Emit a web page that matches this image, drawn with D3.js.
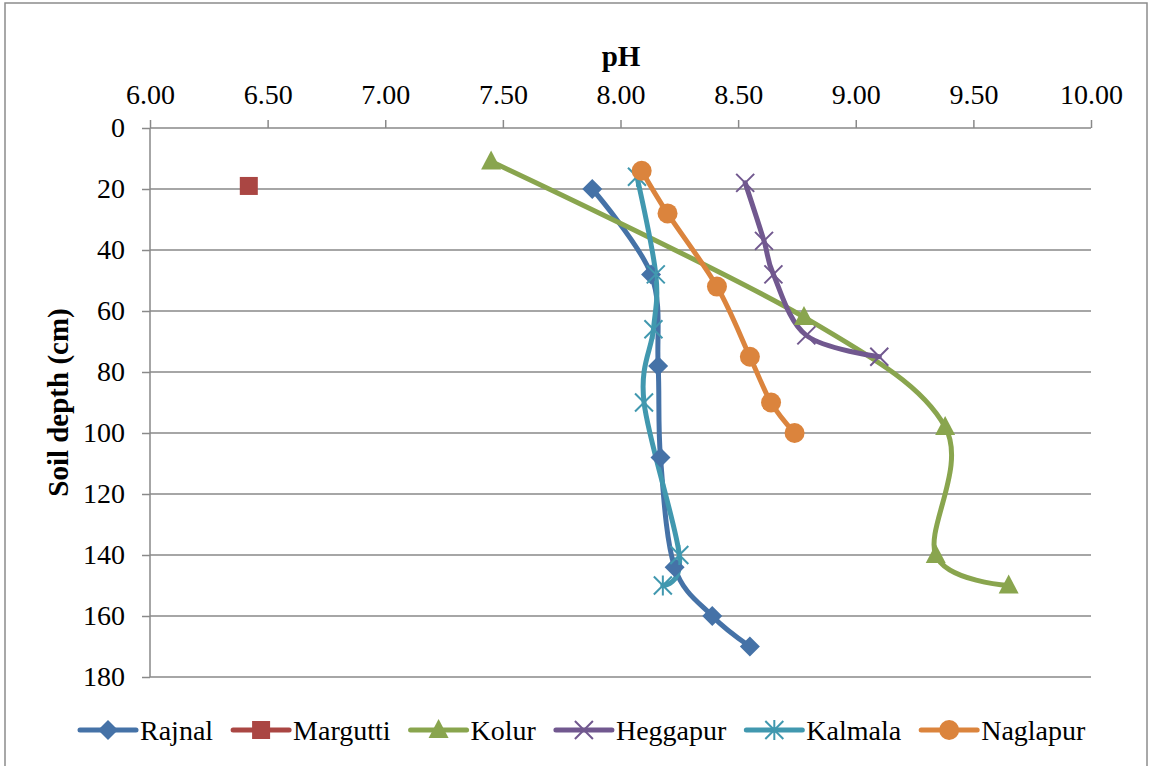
<!DOCTYPE html>
<html>
<head>
<meta charset="utf-8">
<script src="https://cdn.jsdelivr.net/npm/d3@7"></script>
<style>
  html, body { margin: 0; padding: 0; background: #fff; }
  svg { display: block; }
</style>
</head>
<body>
<svg id="chart" width="1151" height="766"></svg>
<script>
// ---- Data ----
const seriesNames = ["Rajnal", "Margutti", "Kolur", "Heggapur", "Kalmala", "Naglapur"];
const seriesColors = ["#4572A7", "#AA4643", "#89A54E", "#71588F", "#4198AF", "#DB843D"];
const seriesMarkers = ["diamond", "square", "triangle", "x", "star", "circle"];

const rajnalPH    = [7.88, 8.13, 8.16, 8.17, 8.23, 8.39, 8.55];
const rajnalDepth = [20, 48, 78, 108, 144, 160, 170];

const marguttiPH    = [6.42];
const marguttiDepth = [19];

const kolurPH    = [7.45, 8.78, 9.38, 9.34, 9.65];
const kolurDepth = [11, 62, 98, 140, 150];

const heggapurPH    = [8.53, 8.61, 8.65, 8.79, 9.10];
const heggapurDepth = [18, 37, 48, 68, 75];

const kalmalaPH    = [8.07, 8.15, 8.14, 8.10, 8.25, 8.18];
const kalmalaDepth = [16, 48, 66, 90, 140, 150];

const naglapurPH    = [8.09, 8.20, 8.41, 8.55, 8.64, 8.74];
const naglapurDepth = [14, 28, 52, 75, 90, 100];

const xTicks = [6.0, 6.5, 7.0, 7.5, 8.0, 8.5, 9.0, 9.5, 10.0];
const yTicks = [0, 20, 40, 60, 80, 100, 120, 140, 160, 180];

const phSeries = [rajnalPH, marguttiPH, kolurPH, heggapurPH, kalmalaPH, naglapurPH];
const depthSeries = [rajnalDepth, marguttiDepth, kolurDepth, heggapurDepth, kalmalaDepth, naglapurDepth];

const series = seriesNames.map((name, i) => ({
  name, color: seriesColors[i], marker: seriesMarkers[i],
  points: phSeries[i].map((v, j) => ({ ph: v, depth: depthSeries[i][j] }))
}));

// ---- Layout ----
const FONT = "'Liberation Serif', 'Times New Roman', serif";
const FS = "28px";
const FS_TITLE = "29px";
const svg = d3.select("#chart");
const mLeft = 150, mRight = 1091, mTop = 128, mBottom = 677;
const x = d3.scaleLinear().domain([6, 10]).range([mLeft, mRight]);
const y = d3.scaleLinear().domain([0, 180]).range([mTop, mBottom]);
const gridColor = "#898989";

// outer border
svg.append("rect").attr("x", 5).attr("y", 3).attr("width", 1142).attr("height", 775)
  .attr("fill", "none").attr("stroke", "#8c8c8c").attr("stroke-width", 1.5);

// gridlines
svg.append("g").selectAll("line").data(yTicks.filter(d => d > 0)).join("line")
  .attr("x1", mLeft).attr("x2", mRight)
  .attr("y1", d => y(d)).attr("y2", d => y(d))
  .attr("stroke", gridColor).attr("stroke-width", 1.5);

// top x axis
const xAxis = svg.append("g").attr("transform", `translate(0,${mTop})`)
  .call(d3.axisTop(x).tickValues(xTicks).tickFormat(d3.format(".2f")).tickSize(8).tickPadding(16));
xAxis.attr("font-family", null).attr("font-size", null);
xAxis.select(".domain").attr("stroke", gridColor).attr("stroke-width", 1.5).attr("d", `M${mLeft},0H${mRight}`);
xAxis.selectAll(".tick line").attr("stroke", gridColor).attr("stroke-width", 1.5);
xAxis.selectAll(".tick text").style("font-family", FONT).style("font-size", FS).attr("fill", "#000");

// left y axis
const yAxis = svg.append("g").attr("transform", `translate(${mLeft},0)`)
  .call(d3.axisLeft(y).tickValues(yTicks).tickSize(8).tickPadding(17));
yAxis.attr("font-family", null).attr("font-size", null);
yAxis.select(".domain").attr("stroke", gridColor).attr("stroke-width", 1.5).attr("d", `M0,${mTop}V${mBottom}`);
yAxis.selectAll(".tick line").attr("stroke", gridColor).attr("stroke-width", 1.5);
yAxis.selectAll(".tick text").style("font-family", FONT).style("font-size", FS).attr("fill", "#000");

// axis titles
svg.append("text").attr("x", 621).attr("y", 66)
  .attr("text-anchor", "middle").style("font-family", FONT).style("font-size", FS_TITLE)
  .style("font-weight", "bold").text("pH");
svg.append("text").attr("transform", `translate(68,${(mTop + mBottom) / 2}) rotate(-90)`)
  .attr("text-anchor", "middle").style("font-family", FONT).style("font-size", FS_TITLE)
  .style("font-weight", "bold").text("Soil depth (cm)");

// markers
function drawMarker(g, type, cx, cy, color) {
  if (type === "diamond") {
    const s = 10;
    g.append("path").attr("d", `M${cx},${cy - s}L${cx + s},${cy}L${cx},${cy + s}L${cx - s},${cy}Z`).attr("fill", color);
  } else if (type === "square") {
    g.append("rect").attr("x", cx - 9).attr("y", cy - 9).attr("width", 18).attr("height", 18).attr("fill", color);
  } else if (type === "triangle") {
    g.append("path").attr("d", `M${cx},${cy - 11}L${cx + 10},${cy + 8}L${cx - 10},${cy + 8}Z`).attr("fill", color);
  } else if (type === "circle") {
    g.append("circle").attr("cx", cx).attr("cy", cy).attr("r", 10).attr("fill", color);
  } else if (type === "x") {
    g.append("path").attr("d", `M${cx - 9},${cy - 9}L${cx + 9},${cy + 9}M${cx + 9},${cy - 9}L${cx - 9},${cy + 9}`)
      .attr("stroke", color).attr("stroke-width", 2);
  } else if (type === "star") {
    g.append("path").attr("d", `M${cx - 9},${cy - 9}L${cx + 9},${cy + 9}M${cx + 9},${cy - 9}L${cx - 9},${cy + 9}M${cx},${cy - 10}L${cx},${cy + 10}`)
      .attr("stroke", color).attr("stroke-width", 2);
  }
}

// lines
const line = d3.line().x(d => x(d.ph)).y(d => y(d.depth)).curve(d3.curveCatmullRom.alpha(0));
const plot = svg.append("g");
series.forEach(s => {
  if (s.points.length > 1) {
    plot.append("path").datum(s.points).attr("d", line)
      .attr("fill", "none").attr("stroke", s.color).attr("stroke-width", 5)
      .attr("stroke-linejoin", "round").attr("stroke-linecap", "round");
  }
});
series.forEach(s => {
  const g = plot.append("g");
  s.points.forEach(p => drawMarker(g, s.marker, x(p.ph), y(p.depth), s.color));
});

// legend
const legend = svg.append("g");
let lx = 80;
const ly = 730;
series.forEach(s => {
  const g = legend.append("g");
  g.append("line").attr("x1", lx).attr("x2", lx + 56).attr("y1", ly).attr("y2", ly)
    .attr("stroke", s.color).attr("stroke-width", 5).attr("stroke-linecap", "round");
  drawMarker(g, s.marker, lx + 28, ly, s.color);
  const t = g.append("text").attr("x", lx + 60).attr("y", ly + 10)
    .style("font-family", FONT).style("font-size", FS).attr("fill", "#000").text(s.name);
  lx += 60 + t.node().getComputedTextLength() + 20;
});
</script>
</body>
</html>
